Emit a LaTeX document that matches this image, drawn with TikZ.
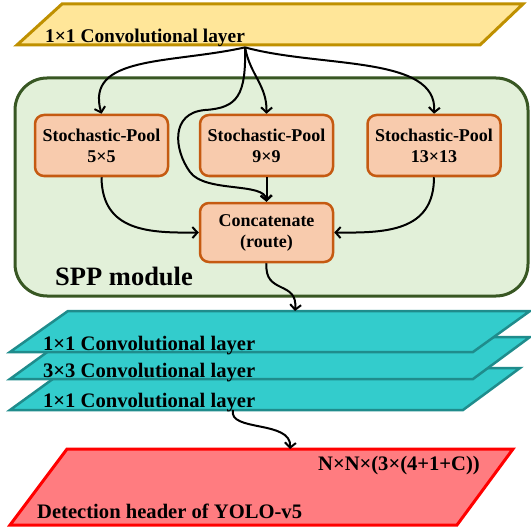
\documentclass[tikz,border=0pt]{standalone}
\usepackage{fontspec}
\setmainfont{Liberation Serif}
\usetikzlibrary{arrows.meta}

\definecolor{yelFill}{HTML}{FFE699}
\definecolor{yelLine}{HTML}{BF9000}
\definecolor{grnFill}{HTML}{E2F0D9}
\definecolor{grnLine}{HTML}{385723}
\definecolor{orgFill}{HTML}{F8CBAD}
\definecolor{orgLine}{HTML}{C55A11}
\definecolor{cyaFill}{HTML}{33CCCC}
\definecolor{cyaLine}{HTML}{1F8C8C}
\definecolor{redFill}{HTML}{FF7C80}
\definecolor{redLine}{HTML}{FF0000}

\tikzset{
  layerY/.style={fill=yelFill, draw=yelLine, line width=3pt, line join=miter},
  layerC/.style={fill=cyaFill, draw=cyaLine, line width=2.5pt, line join=miter},
  layerR/.style={fill=redFill, draw=redLine, line width=3pt, line join=miter},
  sppbox/.style={fill=grnFill, draw=grnLine, line width=3pt, rounded corners=32pt},
  poolbox/.style={fill=orgFill, draw=orgLine, line width=2.5pt, rounded corners=9pt,
    minimum width=133pt, minimum height=61pt, inner sep=0pt, align=center,
    font=\fontsize{18}{21}\selectfont\bfseries},
  lbl/.style={inner sep=0pt, font=\fontsize{19.4}{21}\selectfont\bfseries},
  biglbl/.style={inner sep=0pt, font=\fontsize{20.6}{22}\selectfont\bfseries},
  flow/.style={line width=2pt, -{Straight Barb[length=5pt,width=11pt]}},
}

\begin{document}
\begin{tikzpicture}[x=1pt,y=-1pt]
\useasboundingbox[fill=white] (0,0) rectangle (531,527);

% input layer
\draw[layerY] (62,4) -- (523,4) -- (480,45) -- (17,45) -- cycle;
\node[lbl, anchor=base west] (inConv) at (45,43) {1×1 Convolutional layer};

% SPP module frame
\draw[sppbox] (15,78) rectangle (528,296);
\node[inner sep=0pt, anchor=base west, font=\fontsize{26.5}{28}\selectfont\bfseries] (sppLbl) at (55,285) {SPP module};

% pooling branches and concatenation
\node[poolbox] (pool5) at (101.5,145.5) {Stochastic-Pool\\5×5};
\node[poolbox] (pool9) at (266.5,145.5) {Stochastic-Pool\\9×9};
\node[poolbox] (pool13) at (434,145.5) {Stochastic-Pool\\13×13};
\node[poolbox, minimum height=59pt] (cat) at (266.5,232.5) {Concatenate\\(route)};

% stacked convolution layers (back to front)
\draw[layerC] (68,368) -- (520,368) -- (463,410) -- (10,410) -- cycle;
\draw[layerC] (68,337) -- (530,337) -- (473,379) -- (10,379) -- cycle;
\draw[layerC] (68,311) -- (530,311) -- (473,352) -- (10,352) -- cycle;
\node[biglbl, anchor=base west] (conv1) at (43,350) {1×1 Convolutional layer};
\node[biglbl, anchor=base west] (conv3) at (43,377) {3×3 Convolutional layer};
\node[biglbl, anchor=base west] (conv1b) at (43,407) {1×1 Convolutional layer};

% detection head
\draw[layerR] (67,449) -- (513,449) -- (457,525) -- (10,525) -- cycle;
\node[biglbl, anchor=base east] (shape) at (480,470) {N×N×(3×(4+1+C))};
\node[biglbl, anchor=base west] (head) at (37,518) {Detection header of YOLO-v5};

% connector ends on the layers
\coordinate (stackTop) at (295,311);
\coordinate (stackOut) at (233,410);
\coordinate (headTop) at (290,449);

% connectors
\draw[flow] (inConv.south east) .. controls (170,64) and (85,55) .. (pool5.north);
\draw[flow] (inConv.south east) .. controls (250,75) and (267,85) .. (pool9.north);
\draw[flow] (inConv.south east) .. controls (320,68) and (438,55) .. (pool13.north);
\draw[flow] (inConv.south east) .. controls (246,95) and (238,108) .. (205,110)
  .. controls (170,113) and (174,150) .. (190,172)
  .. controls (205,193) and (265,182) .. (cat.north);
\draw[flow] (pool9.south) -- (cat.north);
\draw[flow] (pool5.south) .. controls (102,232) and (150,233) .. (cat.west);
\draw[flow] (pool13.south) .. controls (434,232) and (385,233) .. (cat.east);
\draw[flow] (cat.south) .. controls (264,295) and (298,280) .. (stackTop);
\draw[flow] (stackOut) .. controls (228,432) and (292,420) .. (headTop);
\end{tikzpicture}
\end{document}
